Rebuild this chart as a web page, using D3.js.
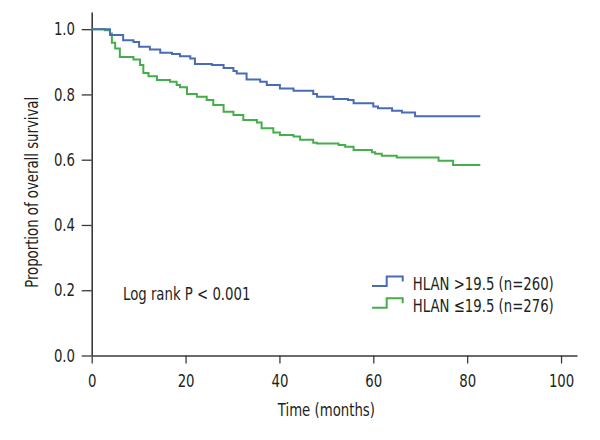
<!DOCTYPE html>
<html>
<head>
<meta charset="utf-8">
<script src="https://cdn.jsdelivr.net/npm/d3@7"></script>
<style>
  html, body { margin: 0; padding: 0; background: #fff; }
  svg text { font-family: "Liberation Sans Narrow", "DejaVu Sans Condensed", "Arial Narrow", sans-serif; fill: #231f20; }
</style>
</head>
<body>
<svg id="chart" width="600" height="440"></svg>
<script>
// ---- data ----
const seriesNames = ["HLAN >19.5 (n=260)", "HLAN \u226419.5 (n=276)"];
const seriesColors = ["#4a6cb4", "#45ae4b"];

const highTimes = [0, 3.9, 6.7, 8.9, 10.1, 12.4, 14.6, 17.1, 18.8, 21.0, 22.0, 25.6, 28.1, 30.2, 30.9, 33.0, 35.9, 37.3, 40.1, 43.0, 47.2, 48.0, 51.5, 54.6, 55.8, 60.0, 61.0, 64.0, 66.1, 68.9, 82.8];
const highSurv  = [1.0, 0.982, 0.966, 0.961, 0.946, 0.938, 0.928, 0.924, 0.917, 0.910, 0.893, 0.890, 0.881, 0.872, 0.864, 0.846, 0.839, 0.829, 0.818, 0.811, 0.801, 0.793, 0.786, 0.783, 0.773, 0.763, 0.758, 0.750, 0.745, 0.733, 0.733];

const lowTimes = [0, 2.8, 3.9, 4.3, 5.0, 6.0, 8.9, 10.3, 11.0, 12.1, 13.9, 16.7, 18.1, 18.8, 20.3, 22.4, 24.5, 25.9, 28.1, 30.2, 32.3, 35.2, 36.2, 38.7, 40.1, 43.0, 44.4, 47.2, 48.0, 52.6, 54.0, 55.8, 59.7, 60.4, 61.8, 65.0, 73.9, 77.0, 82.8];
const lowSurv  = [1.0, 0.997, 0.987, 0.958, 0.941, 0.915, 0.907, 0.890, 0.866, 0.856, 0.844, 0.839, 0.829, 0.822, 0.801, 0.793, 0.783, 0.768, 0.747, 0.737, 0.722, 0.714, 0.696, 0.683, 0.676, 0.671, 0.661, 0.652, 0.650, 0.645, 0.640, 0.630, 0.623, 0.618, 0.612, 0.607, 0.597, 0.584, 0.584];

const xTicks = [0, 20, 40, 60, 80, 100];
const yTicks = [0, 0.2, 0.4, 0.6, 0.8, 1.0];
const annotation = "Log rank P < 0.001";
const xTitle = "Time (months)";
const yTitle = "Proportion of overall survival";

// ---- chart ----
const svg = d3.select("#chart");
const x = d3.scaleLinear().domain([0, 103.4]).range([91.7, 577]);
const y = d3.scaleLinear().domain([0, 1.0526]).range([355.5, 12]);
const axisColor = "#3a3a3a";

const xAxis = svg.append("g")
  .attr("transform", `translate(0,${y(0)})`)
  .call(d3.axisBottom(x).tickValues(xTicks).tickFormat(d3.format("d")).tickSize(8).tickPadding(10.4).tickSizeOuter(0));
const yAxis = svg.append("g")
  .attr("transform", `translate(${x(0)},0)`)
  .call(d3.axisLeft(y).tickValues(yTicks).tickFormat(d3.format(".1f")).tickSize(10).tickPadding(6.7).tickSizeOuter(0));

[xAxis, yAxis].forEach(g => {
  g.selectAll("path.domain").attr("stroke", axisColor).attr("stroke-width", 1.6);
  g.selectAll(".tick line").attr("stroke", axisColor).attr("stroke-width", 1.3);
  g.selectAll(".tick text").attr("font-size", 18).attr("fill", "#231f20")
    .style("font-family", '"Liberation Sans Narrow", "DejaVu Sans Condensed", sans-serif');
});

const line = d3.line().x(d => x(d[0])).y(d => y(d[1])).curve(d3.curveStepAfter);
const series = [d3.zip(highTimes, highSurv), d3.zip(lowTimes, lowSurv)];
// draw green first, blue on top
[1, 0].forEach(i => {
  svg.append("path")
    .datum(series[i])
    .attr("fill", "none")
    .attr("stroke", seriesColors[i])
    .attr("stroke-width", 2)
    .attr("d", line);
});

svg.append("text")
  .attr("x", 123).attr("y", 300)
  .attr("font-size", 18)
  .text(annotation);

svg.append("text")
  .attr("x", (x(0) + x(100)) / 2).attr("y", 416)
  .attr("text-anchor", "middle")
  .attr("font-size", 18)
  .text(xTitle);

svg.append("text")
  .attr("transform", `translate(38,${(y(0) + y(1)) / 2}) rotate(-90)`)
  .attr("text-anchor", "middle")
  .attr("font-size", 18)
  .text(yTitle);

// legend
const legend = svg.append("g");
seriesNames.forEach((name, i) => {
  const oy = 286 + i * 21.7;
  legend.append("path")
    .attr("d", `M372,${oy} H386.7 V${oy - 9.5} H402.7 V${oy - 4.5}`)
    .attr("fill", "none")
    .attr("stroke", seriesColors[i])
    .attr("stroke-width", 2);
  legend.append("text")
    .attr("x", 412.7).attr("y", oy + 4)
    .attr("font-size", 18)
    .text(name);
});

// condense all text horizontally to mimic the narrow typeface of the reference
svg.selectAll("text").each(function () {
  const len = this.getComputedTextLength();
  d3.select(this).attr("textLength", len * 0.82).attr("lengthAdjust", "spacingAndGlyphs");
});
</script>
</body>
</html>
